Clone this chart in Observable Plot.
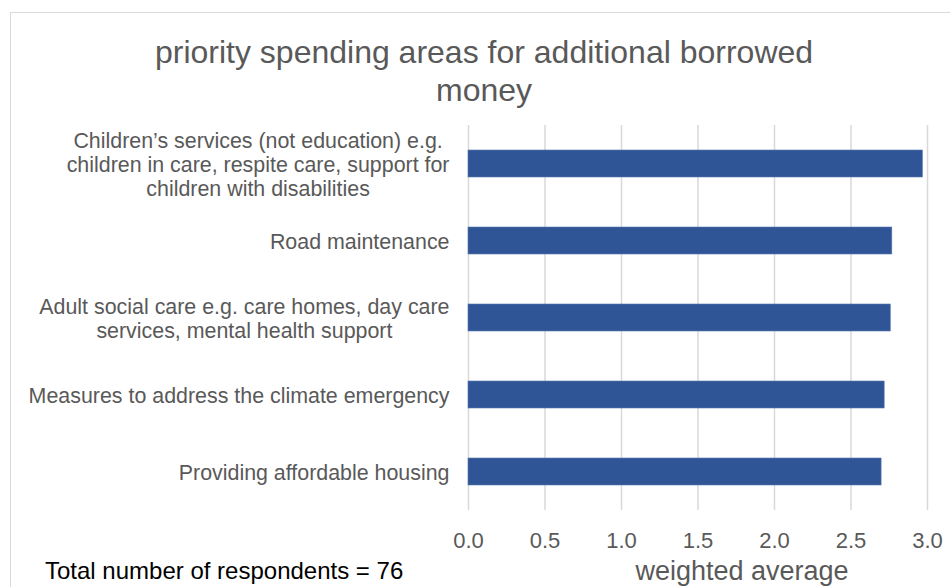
<!DOCTYPE html>
<html><head><meta charset="utf-8">
<script src="https://cdn.jsdelivr.net/npm/d3@7"></script>
<script src="https://cdn.jsdelivr.net/npm/@observablehq/plot@0.6"></script>
<style>
body{margin:0;background:#fff;font-family:"Liberation Sans",Arial,sans-serif;}
#wrap{position:relative;width:950px;height:587px;overflow:hidden;background:#fff;}
#frame{position:absolute;left:10px;top:12px;width:1000px;height:700px;border:1.5px solid #d9d9d9;box-sizing:border-box;}
#title{position:absolute;left:0;width:968px;top:33px;text-align:center;font-size:32px;line-height:38px;color:#595959;white-space:nowrap;}
#chart{position:absolute;left:0;top:0;}
#xlabel{position:absolute;left:592px;width:300px;top:558px;text-align:center;font-size:27px;line-height:1;color:#595959;white-space:nowrap;}
#foot{position:absolute;left:45px;top:559px;font-size:24px;line-height:1;color:#000;white-space:nowrap;}
</style>
</head><body>
<div id="wrap">
  <div id="frame"></div>
  <div id="chart"></div>
  <div id="title">priority spending areas for additional borrowed<br>money</div>
  <div id="xlabel">weighted average</div>
  <div id="foot">Total number of respondents = 76</div>
</div>
<script>
const categories = [
  "Children’s services (not education) e.g. children in care, respite care, support for children with disabilities",
  "Road maintenance",
  "Adult social care e.g. care homes, day care services, mental health support",
  "Measures to address the climate emergency",
  "Providing affordable housing"
];
const labelLines = [
  ["Children’s services (not education) e.g.", "children in care, respite care, support for", "children with disabilities"],
  ["Road maintenance"],
  ["Adult social care e.g. care homes, day care", "services, mental health support"],
  ["Measures to address the climate emergency"],
  ["Providing affordable housing"]
];
const values = [2.97, 2.77, 2.76, 2.72, 2.70];
const xTicks = [0, 0.5, 1.0, 1.5, 2.0, 2.5, 3.0];

const data = categories.map((c, i) => ({category: c, value: values[i]}));
const labelOf = new Map(categories.map((c, i) => [c, labelLines[i].join("\n")]));

const chart = Plot.plot({
  width: 950,
  height: 587,
  marginLeft: 468,
  marginRight: 23,
  marginTop: 125,
  marginBottom: 77,
  style: {fontFamily: "Liberation Sans, Arial, sans-serif", background: "transparent", overflow: "visible"},
  x: {domain: [0, 3], label: null},
  y: {domain: categories, paddingInner: 0.65, paddingOuter: 0.325, label: null},
  marks: [
    Plot.gridX(xTicks, {stroke: "#d9d9d9", strokeOpacity: 1, strokeWidth: 1.5}),
    Plot.barX(data, {x: "value", y: "category", fill: "#2F5597", stroke: "#5a78b0", strokeWidth: 0.6}),
    Plot.axisX({ticks: xTicks, tickFormat: d3.format(".1f"), tickSize: 0, tickPadding: 22, fontSize: 22, fill: "#595959", label: null}),
    Plot.axisY({tickSize: 0, tickPadding: 19, tickFormat: c => labelOf.get(c), fontSize: 21.4, fill: "#595959", lineHeight: 1.122, label: null, textAnchor: "end"})
  ]
});
document.getElementById("chart").appendChild(chart);

// center multi-line category labels within their right-aligned block
chart.querySelectorAll('g[aria-label="y-axis tick label"] text').forEach(t => {
  const spans = Array.from(t.querySelectorAll("tspan"));
  if (spans.length > 1) {
    const ws = spans.map(s => s.getComputedTextLength());
    const W = Math.max(...ws);
    spans.forEach((s, i) => s.setAttribute("x", -(W - ws[i]) / 2));
  }
});
</script>
</body></html>
